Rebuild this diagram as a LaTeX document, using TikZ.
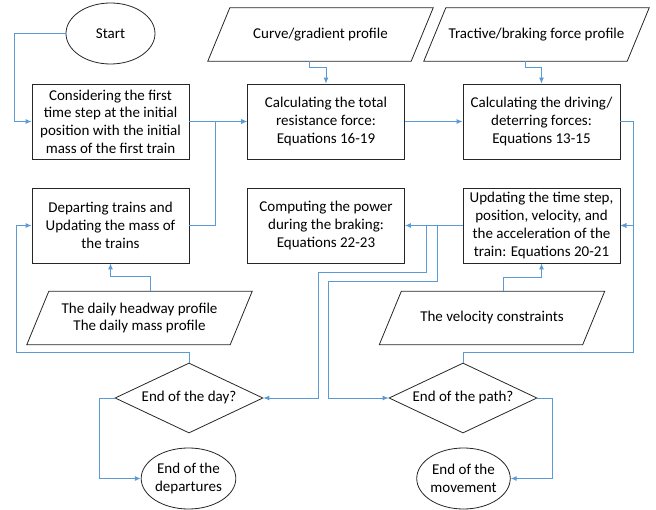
\documentclass[tikz,border=0pt]{standalone}
\usepackage{fontspec}
\setmainfont{Carlito}
\usetikzlibrary{arrows.meta,shapes.geometric,calc}
\definecolor{flowblue}{RGB}{91,155,213}
\tikzset{
  txt/.style={font=\fontsize{15}{17.7}\selectfont,align=center},
  frame/.style={draw=black!85,line width=0.8pt},
  proc/.style={txt,frame,rectangle,minimum width=157pt,minimum height=75pt,inner sep=1pt},
  data/.style={txt,rectangle,minimum width=203pt,minimum height=53pt,inner sep=1pt},
  term/.style={txt,frame,ellipse,minimum width=89pt,minimum height=61pt,inner sep=0pt},
  decide/.style={txt,frame,diamond,aspect=2.1,minimum width=148pt,minimum height=70pt,inner sep=0pt},
  flow/.style={draw=flowblue,line width=0.9pt,-{Latex[length=6pt,width=5pt]}},
}
% slanted outline round a data node
\newcommand{\dataframe}[1]{%
  \draw[frame] ($(#1.south west)+(-11,0)$) -- ($(#1.south east)+(-11,0)$)
    -- ($(#1.north east)+(11,0)$) -- ($(#1.north west)+(11,0)$) -- cycle;}
\begin{document}
\begin{tikzpicture}[x=1pt,y=-1pt]
  \useasboundingbox (0,0) rectangle (656,510);
  % inputs and start
  \node[term] (start) at (110.5,33.5) {Start};
  \node[data] (curve) at (320.5,34.5) {Curve/gradient profile};
  \node[data] (tract) at (536.5,34.5) {Tractive/braking force profile};
  % first row
  \node[proc] (first) at (110.5,121.5) {Considering the first\\time step at the initial\\position with the initial\\mass of the first train};
  \node[proc] (res) at (326,121.5) {Calculating the total\\resistance force:\\Equations 16-19};
  \node[proc] (drive) at (541.5,121.5) {Calculating the driving/\\deterring forces:\\Equations 13-15};
  % second row
  \node[proc] (depart) at (110.5,225.5) {Departing trains and\\Updating the mass of\\the trains};
  \node[proc] (power) at (326,225.5) {Computing the power\\during the braking:\\Equations 22-23};
  \node[proc] (update) at (541.5,225.5) {Updating the time step,\\position, velocity, and\\the acceleration of the\\train: Equations 20-21};
  \node[data] (headway) at (139.5,318) {The daily headway profile\\The daily mass profile};
  \node[data] (velo) at (492,318) {The velocity constraints};
  \dataframe{curve} \dataframe{tract} \dataframe{headway} \dataframe{velo}
  % decisions and ends
  \node[decide] (dayq) at (189,398) {End of the day?};
  \node[decide] (pathq) at (463,398) {End of the path?};
  \node[term] (dep) at (188.5,478.5) {End of the\\departures};
  \node[term] (move) at (463.5,478.5) {End of the\\movement};
  % connectors
  \draw[flow] (start.west) -- ++(-51,0) |- (first.west);
  \draw[flow] (first.east) -- (res.west);
  \draw[flow] (depart.east) -- ++(26,0) |- (res.west);
  \draw[flow] ($(curve.south)+(-11,0)$) -- ++(0,6) -| (res.north);
  \draw[flow] ($(tract.south)+(-11,0)$) -- ++(0,6) -| (drive.north);
  \draw[flow] (res.east) -- (drive.west);
  \coordinate (busR) at ($(update.east)+(13,0)$);
  \draw[flow] (drive.east) -| (busR) -- (update.east);
  \draw[flow] (pathq.north) -- ++(0,-10) -| (busR) -- (update.east);
  \draw[flow] (update.west) -- (power.east);
  \draw[flow] (update.west) -- ++(-36,0) |- ++(-108,47) |- (dayq.east);
  \draw[flow] (update.west) -- ++(-25,0) |- ++(-109,56) |- (pathq.west);
  \draw[flow] (dayq.north) -- ++(0,-10) -| ($(depart.west)+(-15,0)$) -- (depart.west);
  \draw[flow] ($(headway.north)+(11,0)$) -- ++(0,-15) -| (depart.south);
  \draw[flow] ($(velo.north)+(11,0)$) -- ++(0,-14) -| (update.south);
  \draw[flow] (dayq.west) -- ++(-15,0) |- (dep.west);
  \draw[flow] (pathq.east) -- ++(15,0) |- (move.east);
\end{tikzpicture}
\end{document}
